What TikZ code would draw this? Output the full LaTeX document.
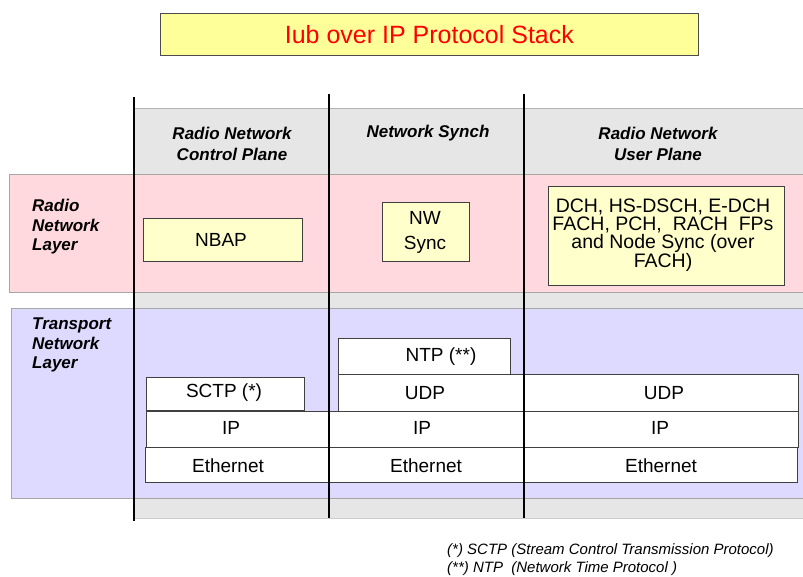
\documentclass[tikz,border=0pt]{standalone}
\usepackage{fontspec}
\setmainfont{Liberation Sans}
\definecolor{titleyellow}{HTML}{FFFF99}
\definecolor{boxyellow}{HTML}{FFFFCC}
\definecolor{pinkband}{HTML}{FFD9DE}
\definecolor{lavband}{HTML}{DDD9FF}
\definecolor{greyband}{HTML}{E6E6E6}
\definecolor{titlered}{HTML}{FF0000}
\tikzset{
  band/.style={draw=gray!70, line width=0.8pt},
  cell/.style={draw=black!75, fill=white, line width=0.6pt, anchor=north west, inner sep=0pt},
  ybox/.style={draw=black!75, fill=boxyellow, line width=0.7pt, anchor=north west, inner sep=0pt},
  body/.style={font=\fontsize{19}{22}\selectfont, inner sep=0pt},
  head/.style={font=\fontsize{17}{21}\selectfont\bfseries\itshape, align=center, inner sep=0pt},
  side/.style={font=\fontsize{17}{19.5}\selectfont\bfseries\itshape, align=left, anchor=north west, inner sep=0pt},
  foot/.style={font=\fontsize{15}{18}\selectfont\itshape, align=left, anchor=north west, inner sep=0pt},
  vline/.style={line width=2pt, black},
}
\begin{document}
\begin{tikzpicture}[x=1pt,y=-1pt]
\useasboundingbox (0,0) rectangle (803,577);
% title
\node[draw=black!70, fill=titleyellow, line width=0.8pt, minimum width=538pt, minimum height=42pt, anchor=north west, inner sep=0pt,
      font=\fontsize{25}{28}\selectfont, text=titlered] (title) at (160,13) {Iub over IP Protocol Stack};
% bands
\fill[greyband] (134,108) rectangle (805,518);
\draw[gray!60, line width=0.8pt] (134,108) -- (805,108);
\draw[gray!40, line width=0.8pt] (134,518) -- (805,518);
\draw[band, fill=pinkband] (9,174) rectangle (805,292);
\draw[band, fill=lavband] (11,308) rectangle (805,498);
% headers
\node[head] (h1) at (232,144) {Radio Network\\Control Plane};
\node[head] (h2) at (428,133) {Network Synch};
\node[head] (h3) at (658,144) {Radio Network\\User Plane};
% side labels
\node[side] (rnl) at (32,199) {Radio\\Network\\Layer};
\node[side] (tnl) at (32,318) {Transport\\Network\\Layer};
% radio network layer boxes
\node[ybox, minimum width=159pt, minimum height=43pt] (nbap) at (143,218) {};
\node[body] (tnbap) at (221,240) {NBAP};
\node[ybox, minimum width=87pt, minimum height=59pt] (nws) at (382,202) {};
\node[body, align=center, font=\fontsize{19}{25}\selectfont] (tnws) at (425,232) {NW\\Sync};
\node[ybox, minimum width=236pt, minimum height=99pt] (dch) at (548,186) {};
\node[body, align=center, font=\fontsize{19.5}{18}\selectfont] (tdch) at (663,235)
  {DCH, HS-DSCH, E-DCH\\FACH, PCH,\ \ RACH\ \ FPs\\and Node Sync (over\\FACH)};
% transport network layer boxes
\node[cell, minimum width=158pt, minimum height=33pt] (sctp) at (146,377) {};
\node[body] (tsctp) at (224,393) {SCTP (*)};
\node[cell, minimum width=172pt, minimum height=36pt] (ntp) at (338,338) {};
\node[body] (tntp) at (441,357) {NTP (**)};
\node[cell, minimum width=186pt, minimum height=37pt] (udp1) at (338,374) {};
\node[cell, minimum width=274pt, minimum height=37pt] (udp2) at (524,374) {};
\node[body] (tudp1) at (425,393) {UDP};
\node[body] (tudp2) at (664,393) {UDP};
\node[cell, minimum width=183pt, minimum height=36pt] (ip1) at (146,411) {};
\node[cell, minimum width=195pt, minimum height=36pt] (ip2) at (329,411) {};
\node[cell, minimum width=274pt, minimum height=36pt] (ip3) at (524,411) {};
\node[body] (tip1) at (231,428) {IP};
\node[body] (tip2) at (422,428) {IP};
\node[body] (tip3) at (660,428) {IP};
\node[cell, minimum width=184pt, minimum height=35pt] (eth1) at (145,447) {};
\node[cell, minimum width=195pt, minimum height=35pt] (eth2) at (329,447) {};
\node[cell, minimum width=273pt, minimum height=35pt] (eth3) at (524,447) {};
\node[body] (teth1) at (228,466) {Ethernet};
\node[body] (teth2) at (426,466) {Ethernet};
\node[body] (teth3) at (661,466) {Ethernet};
% vertical plane separators
\coordinate (v1t) at (134,97);  \coordinate (v1b) at (134,521);
\coordinate (v2t) at (329,94);  \coordinate (v2b) at (329,518);
\coordinate (v3t) at (524,94);  \coordinate (v3b) at (524,518);
\draw[vline] (v1t) -- (v1b);
\draw[vline] (v2t) -- (v2b);
\draw[vline] (v3t) -- (v3b);
% footnotes
\node[foot] (fn) at (447,543) {(*) SCTP (Stream Control Transmission Protocol)\\(**) NTP\ \ (Network Time Protocol )};
\end{tikzpicture}
\end{document}
